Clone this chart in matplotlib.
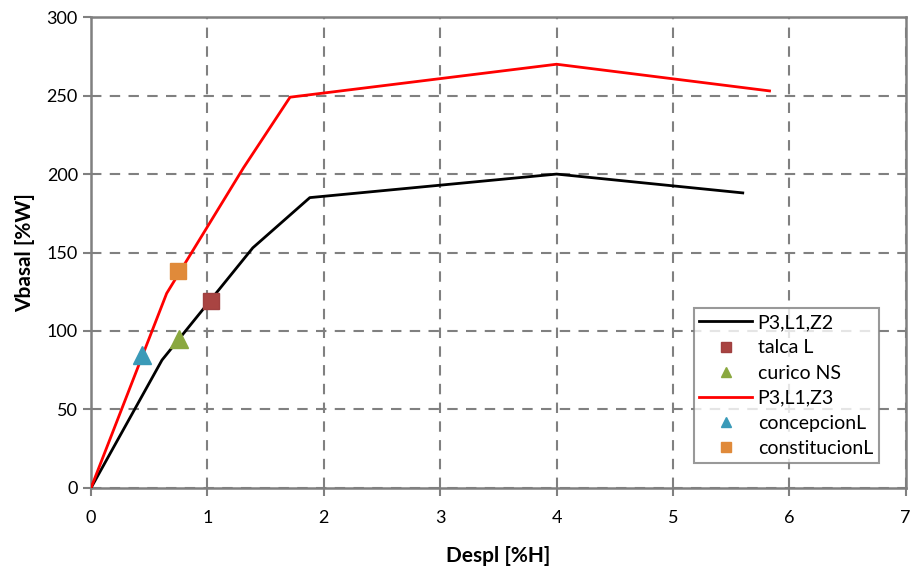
import matplotlib
matplotlib.use("Agg")
import matplotlib.pyplot as plt

plt.rcParams['font.family'] = ['Lato', 'DejaVu Sans']

# Data
z2_x = [0, 0.61, 1.03, 1.39, 1.88, 4.0, 5.6]
z2_y = [0, 81.5, 120, 153, 185, 200, 188]
z3_x = [0, 0.65, 1.31, 1.71, 4.0, 5.83]
z3_y = [0, 124, 204, 249, 270, 253]
talca = (1.03, 119)
curico = (0.76, 95)
concepcion = (0.44, 85)
constitucion = (0.75, 138)

fig = plt.figure(figsize=(9.13, 5.72), dpi=100)
ax = fig.add_axes([0.0997, 0.147, 0.8923, 0.823])

grid_col = '#808080'
ax.plot(z2_x, z2_y, color='black', lw=2, label='P3,L1,Z2', zorder=3)
ax.plot([talca[0]], [talca[1]], 's', color='#A94442', ms=12, label='talca L', zorder=4, markeredgecolor='#A04040')
ax.plot([curico[0]], [curico[1]], '^', color='#8AA83F', ms=13, label='curico NS', zorder=4)
ax.plot(z3_x, z3_y, color='#FF0000', lw=2, label='P3,L1,Z3', zorder=3)
ax.plot([concepcion[0]], [concepcion[1]], '^', color='#3A9AB8', ms=13, label='concepcionL', zorder=4)
ax.plot([constitucion[0]], [constitucion[1]], 's', color='#E08A3A', ms=12, label='constitucionL', zorder=4)

ax.set_xlim(0, 7)
ax.set_ylim(0, 300)
ax.set_xticks(range(0, 8))
ax.set_yticks(range(0, 301, 50))
ax.grid(True, color=grid_col, linestyle=(0, (5, 4)), lw=1.5)
for s in ax.spines.values():
    s.set_color(grid_col)
    s.set_linewidth(1.8)
ax.tick_params(axis='both', colors=grid_col, labelcolor='black', labelsize=13, length=6, width=1.5)
ax.tick_params(axis='x', pad=10)
ax.set_xlabel('Despl [%H]', fontsize=15, fontweight='bold', labelpad=14)
ax.set_ylabel('Vbasal [%W]', fontsize=15, fontweight='bold', labelpad=8)

leg = ax.legend(loc='lower right', bbox_to_anchor=(0.967, 0.053), fontsize=14, frameon=True,
                fancybox=False, edgecolor=grid_col, handlelength=2.7, markerscale=0.6,
                borderpad=0.3, labelspacing=0.42, handletextpad=0.3, borderaxespad=0)
leg.get_frame().set_linewidth(1.5)

fig.savefig('out.png', dpi=100)
